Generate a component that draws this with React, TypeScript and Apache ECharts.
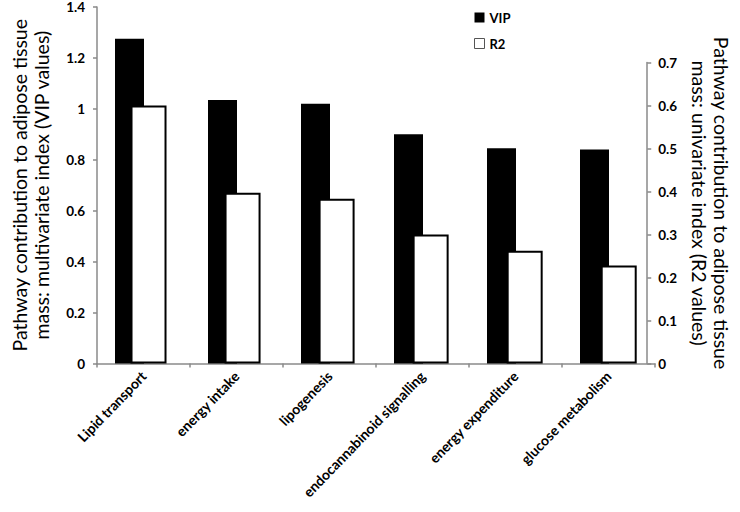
import React, { useEffect, useRef } from "react";
import * as echarts from "echarts";

const categories = [
  "Lipid transport",
  "energy intake",
  "lipogenesis",
  "endocannabinoid signalling",
  "energy expenditure",
  "glucose metabolism",
];
const vipValues = [1.275, 1.035, 1.02, 0.9, 0.845, 0.84];
const r2Values = [0.6, 0.397, 0.383, 0.3, 0.262, 0.228];
const emptyValues = categories.map(() => null);
const leftName = "Pathway contribution to adipose tissue\nmass: multivariate index (VIP values)";
const rightName = "Pathway contribution to adipose tissue\nmass: univariate index (R2 values)";

const FONT = "Lato";

export default function App() {
  const ref = useRef<HTMLDivElement>(null);
  useEffect(() => {
    document.body.style.margin = "0";
    const chart = echarts.init(ref.current!, null, { renderer: "svg" });
    const axisLine = { show: true, lineStyle: { color: "#8a8a8a", width: 1.5 } };
    const tickStyle = { show: true, length: 4, lineStyle: { color: "#8a8a8a", width: 1.5 } };
    const labelStyle = { color: "#000", fontWeight: "bold" as const, fontSize: 13.5, fontFamily: FONT };
    chart.setOption({
      animation: false,
      grid: [
        { left: 83, right: 85, top: 6.5, bottom: 148.5 },
        { left: 83, right: 85, top: 62.5, bottom: 148.5 },
      ],
      legend: {
        data: [
          { name: "VIP" },
          { name: "R2", itemStyle: { borderWidth: 1, borderColor: "#555" } },
        ],
        orient: "vertical",
        left: 469,
        top: 6,
        itemWidth: 10,
        itemHeight: 10,
        itemGap: 13,
        icon: "rect",
        textStyle: { ...labelStyle, fontSize: 13 },
      },
      xAxis: [
        {
          type: "category",
          gridIndex: 0,
          data: categories,
          axisLine,
          axisTick: { ...tickStyle, alignWithLabel: false },
          axisLabel: { ...labelStyle, fontSize: 14, rotate: 46, interval: 0, margin: 10 },
        },
        { type: "category", gridIndex: 1, data: categories, show: false },
      ],
      yAxis: [
        {
          type: "value",
          gridIndex: 0,
          position: "left",
          min: 0,
          max: 1.4,
          interval: 0.2,
          axisLine,
          axisTick: { ...tickStyle, length: 4 },
          splitLine: { show: false },
          axisLabel: { ...labelStyle, margin: 12 },
          name: leftName,
          nameLocation: "middle",
          nameRotate: 90,
          nameGap: 45,
          nameTextStyle: { fontFamily: FONT, fontSize: 19.5, color: "#000", lineHeight: 22 },
        },
        {
          type: "value",
          gridIndex: 1,
          position: "right",
          min: 0,
          max: 0.7,
          interval: 0.1,
          axisLine,
          axisTick: { ...tickStyle, length: 4 },
          splitLine: { show: false },
          axisLabel: { ...labelStyle, margin: 11 },
          name: rightName,
          nameLocation: "middle",
          nameRotate: -90,
          nameGap: 29,
          nameTextStyle: { fontFamily: FONT, fontSize: 19.5, color: "#000", lineHeight: 22, padding: [0, 20, 0, 0] },
        },
      ],
      series: [
        { type: "bar", name: "_sp0", xAxisIndex: 0, yAxisIndex: 0, data: emptyValues, barWidth: 8, barGap: "0%" },
        {
          type: "bar",
          name: "VIP",
          xAxisIndex: 0,
          yAxisIndex: 0,
          data: vipValues,
          barWidth: 29,
          barGap: "0%",
          itemStyle: { color: "#000" },
        },
        { type: "bar", name: "_d0", xAxisIndex: 0, yAxisIndex: 0, data: emptyValues, barWidth: 36, barGap: "0%" },
        { type: "bar", name: "_sp1", xAxisIndex: 1, yAxisIndex: 1, data: emptyValues, barWidth: 8, barGap: "0%" },
        { type: "bar", name: "_d1", xAxisIndex: 1, yAxisIndex: 1, data: emptyValues, barWidth: 29, barGap: "0%" },
        {
          type: "bar",
          name: "R2",
          xAxisIndex: 1,
          yAxisIndex: 1,
          data: r2Values,
          barWidth: 36,
          barGap: "0%",
          itemStyle: { color: "#fff", borderColor: "#000", borderWidth: 2 },
        },
      ],
    });
    return () => chart.dispose();
  }, []);
  return <div ref={ref} style={{ width: 740, height: 512 }} />;
}
